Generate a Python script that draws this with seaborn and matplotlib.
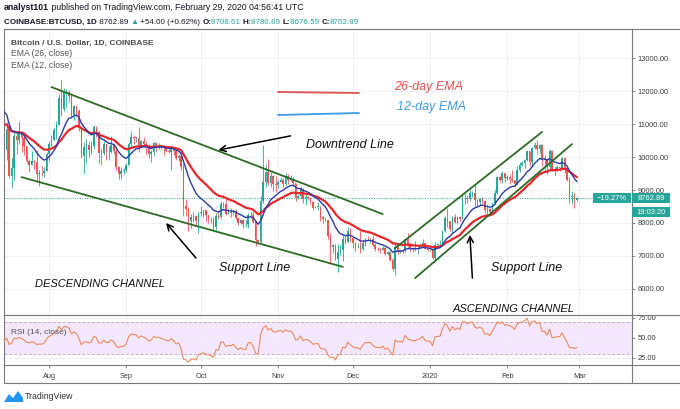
import numpy as np
import pandas as pd
import matplotlib
matplotlib.use("Agg")
import matplotlib.pyplot as plt
import matplotlib.dates as mdates
from matplotlib.patches import Rectangle, Polygon
import seaborn as sns

# June 2019 closes, only used to warm up the EMA / RSI
warmup_close = [8560, 8740, 8100, 7650, 7790, 7810, 8000, 7930, 7630, 8010,
                7920, 8170, 8230, 8690, 8850, 8980, 9330, 9080, 9280, 9530,
                10170, 10700, 10850, 11010, 11760, 12930, 11160, 12380, 11900, 10820]

# daily BTCUSD candles, 2019-07-01 .. 2020-02-29 (open = previous close)
start_date = "2019-07-01"
first_open = 10820
close = [
    # Jul
    10590, 10820, 11980, 11150, 10980, 11250, 11480, 12300, 12570, 12100, 11350, 11810, 11380, 10200, 10850, 9420,
    9680, 10640, 10530, 10760, 10590, 10330, 9870, 9770, 9880, 9850, 9480, 9530, 9510, 9590, 10090,
    # Aug
    10400, 10530, 10820, 10980, 11800, 11460, 11970, 11980, 11850, 11280, 11540, 11390, 10880, 10030, 10300, 10350,
    10220, 10320, 10920, 10760, 10130, 10120, 10400, 10140, 10140, 10370, 10190, 9710, 9490, 9580, 9600,
    # Sep
    9760, 10380, 10620, 10580, 10580, 10320, 10500, 10400, 10320, 10100, 10160, 10410, 10360, 10360, 10310,
    10260, 10190, 10160, 10270, 10170, 9980, 10030, 9700, 8530, 8430, 8060, 8190, 8210, 8050, 8300,
    # Oct
    8340, 8390, 8230, 8150, 8140, 7870, 8210, 8180, 8590, 8590, 8270, 8320, 8300, 8370, 8160, 8000,
    8080, 7960, 7960, 8240, 8230, 8030, 7470, 7430, 8660, 9240, 9550, 9220, 9430, 9170, 9150,
    # Nov
    9250, 9300, 9190, 9410, 9310, 9340, 9200, 8770, 8810, 9040, 8720, 8800, 8760, 8630, 8460,
    8490, 8500, 8170, 8120, 8080, 7610, 7280, 7320, 6910, 7130, 7170, 7520, 7430, 7750, 7550,
    # Dec
    7400, 7300, 7300, 7200, 7390, 7530, 7500, 7520, 7340, 7220, 7200, 7190, 7250, 7060, 7110, 6880,
    6610, 7280, 7150, 7190, 7140, 7510, 7320, 7250, 7200, 7200, 7250, 7300, 7390, 7220, 7170,
    # Jan
    7180, 6950, 7340, 7350, 7360, 7760, 8160, 8050, 7820, 8190, 8020, 8180, 8110, 8810, 8820, 8720,
    8900, 8920, 8700, 8630, 8730, 8660, 8390, 8430, 8340, 8600, 8900, 9390, 9290, 9510, 9350,
    # Feb
    9380, 9340, 9290, 9180, 9620, 9760, 9810, 9910, 10170, 9850, 10280, 10360, 10240, 10370, 9900,
    9930, 9700, 10180, 9600, 9610, 9690, 9670, 9960, 9660, 9310, 8790, 8790, 8708.61, 8762.89,
]
high = [
    11200, 10900, 11990, 12000, 11400, 11700, 11580, 12380, 12800, 13200, 12100, 11900, 11820, 11450, 11050, 11000,
    9960, 10780, 10750, 11100, 10800, 10650, 10340, 9930, 10190, 9900, 10200, 9600, 9730, 9700, 10150,
    10470, 10680, 10920, 11080, 11900, 12320, 12100, 12050, 12030, 11950, 11590, 11550, 11450, 10890, 10460, 10550,
    10480, 10480, 10980, 10950, 10800, 10250, 10470, 10400, 10320, 10630, 10420, 10300, 9730, 9690, 9680,
    9810, 10460, 10800, 10670, 10610, 10910, 10530, 10620, 10480, 10400, 10200, 10460, 10450, 10420, 10380,
    10360, 10270, 10240, 10290, 10290, 10170, 10100, 10040, 9800, 8730, 8470, 8270, 8320, 8230, 8320,
    8520, 8400, 8400, 8240, 8180, 8160, 8310, 8340, 8670, 8650, 8800, 8440, 8440, 8400, 8420, 8170,
    8120, 8130, 8090, 8290, 8330, 8340, 8050, 7500, 8810, 10370, 9790, 9950, 9550, 9440, 9430,
    9290, 9380, 9370, 9530, 9470, 9450, 9380, 9220, 8860, 9130, 9070, 8880, 8830, 8790, 8680,
    8520, 8630, 8510, 8200, 8180, 8130, 7690, 7350, 7350, 7370, 7330, 7650, 7630, 7870, 7840,
    7550, 7420, 7400, 7750, 7480, 7560, 7620, 7560, 7620, 7400, 7270, 7230, 7310, 7280, 7150, 7140,
    6930, 7430, 7370, 7220, 7190, 7520, 7690, 7420, 7280, 7440, 7280, 7360, 7520, 7420, 7310,
    7250, 7210, 7410, 7390, 7490, 7800, 8210, 8460, 8050, 8200, 8280, 8200, 8190, 8890, 8900, 8830,
    9000, 8980, 9190, 8740, 8760, 8790, 8670, 8510, 8440, 8620, 8990, 9410, 9420, 9580, 9520,
    9460, 9470, 9620, 9310, 9740, 9850, 9870, 9950, 10180, 10180, 10300, 10450, 10520, 10390, 10400,
    10050, 9980, 10250, 10200, 9690, 9770, 9700, 9990, 10000, 9680, 9400, 8970, 8900, 8780.89,
]
low = [
    10000, 9700, 10830, 11070, 10800, 10980, 11100, 11420, 12140, 11600, 11000, 11120, 10850, 10100, 9900, 9350,
    9070, 9300, 10100, 10400, 10150, 10070, 9830, 9550, 9750, 9650, 9230, 9120, 9430, 9380, 9580,
    9890, 10340, 10500, 10560, 10970, 11240, 11400, 11500, 11680, 11200, 11130, 11240, 10790, 9980, 9520, 9830,
    9990, 10080, 10250, 10600, 9820, 9750, 10060, 9910, 9920, 10130, 10080, 9600, 9330, 9330, 9480,
    9560, 9760, 10300, 10400, 10460, 10160, 10300, 10300, 10100, 9970, 9850, 10030, 10160, 10240, 10240,
    10070, 10140, 10110, 9620, 10060, 9920, 9880, 9620, 8220, 8200, 7760, 7860, 8030, 7900, 7700,
    8200, 8180, 8070, 8000, 8000, 7790, 7780, 8110, 8110, 8460, 8240, 8270, 8190, 8240, 8100, 7930,
    7980, 7860, 7880, 7860, 8140, 8010, 7300, 7360, 7400, 8620, 9080, 9140, 9100, 8980, 8930,
    9050, 9240, 9090, 9160, 9180, 9280, 9120, 8660, 8740, 8760, 8620, 8560, 8700, 8570, 8380,
    8440, 8400, 8060, 8010, 8050, 7510, 6790, 7100, 6870, 6520, 7020, 6860, 7370, 7420, 7460,
    7230, 7160, 7230, 7100, 7170, 7300, 7480, 7400, 7300, 7160, 7150, 7080, 7180, 7030, 7030, 6840,
    6560, 6430, 7050, 7080, 7100, 7130, 7260, 7160, 7120, 7150, 7070, 7240, 7280, 7200, 7150,
    7150, 6910, 6860, 7280, 7330, 7350, 7730, 7880, 7760, 7680, 8000, 7960, 8060, 8110, 8580, 8620,
    8680, 8800, 8470, 8530, 8560, 8600, 8300, 8240, 8250, 8300, 8580, 8880, 9230, 9210, 9250,
    9300, 9170, 9230, 9100, 9160, 9540, 9730, 9670, 9880, 9730, 9690, 10240, 10090, 10120, 9720,
    9590, 9470, 9590, 9570, 9440, 9580, 9590, 9660, 9520, 9260, 8600, 8570, 8450, 8676.59,
]

month_ticks = ["2019-08-01", "2019-09-01", "2019-10-01", "2019-11-01", "2019-12-01",
               "2020-01-01", "2020-02-01", "2020-03-01"]
month_labels = ["Aug", "Sep", "Oct", "Nov", "Dec", "2020", "Feb", "Mar"]
price_ticks = [6000, 7000, 8000, 9000, 10000, 11000, 12000, 13000]
rsi_ticks = [25, 50, 75]
last_price = 8762.89

# hand-drawn analysis lines: (date, price) start/end
desc_upper = [("2019-08-02", 12120), ("2019-12-13", 8270)]
desc_lower = [("2019-07-21", 9390), ("2019-11-27", 6670)]
asc_upper = [("2019-12-18", 7240), ("2020-02-15", 10760)]
asc_lower = [("2019-12-26", 6330), ("2020-02-27", 10390)]
# arrows: (tail, head)
arrow_downtrend = [("2019-11-06", 10640), ("2019-10-08", 10210)]
arrow_support_l = [("2019-09-29", 6940), ("2019-09-17", 8000)]
arrow_support_r = [("2020-01-18", 6330), ("2020-01-17", 7640)]

W, H = 680, 409
UP, DOWN = "#26a69a", "#ef5350"
DARK = "#131722"
FRAME = "#7a7a7a"
GRID = "#eef1f5"

sns.set_theme(style="white")
plt.rcParams["font.family"] = ["Liberation Sans", "DejaVu Sans"]

assert len(close) == len(high) == len(low)
dates = pd.date_range(start_date, periods=len(close), freq="D")
x = mdates.date2num(dates)
close_a = np.array(close, dtype=float)
open_a = np.r_[first_open, close_a[:-1]]
high_a = np.maximum(np.array(high, dtype=float), np.maximum(open_a, close_a))
low_a = np.minimum(np.array(low, dtype=float), np.minimum(open_a, close_a))

# indicators
full = pd.Series(warmup_close + close, dtype=float)
n0 = len(warmup_close)
ema26 = full.ewm(span=26, adjust=False).mean().to_numpy()[n0:]
ema12 = full.ewm(span=12, adjust=False).mean().to_numpy()[n0:]
delta = full.diff()
gain = delta.clip(lower=0).ewm(alpha=1 / 14, adjust=False).mean()
loss = (-delta.clip(upper=0)).ewm(alpha=1 / 14, adjust=False).mean()
rsi = (100 - 100 / (1 + gain / loss)).to_numpy()[n0:]


def fx(px):
    return px / W


def fy(py):
    return 1 - py / H


def dn(d):
    return mdates.date2num(pd.Timestamp(d))


fig = plt.figure(figsize=(W / 100, H / 100), dpi=100)
fig.patch.set_facecolor("white")
ax = fig.add_axes([fx(4), fy(315), fx(632) - fx(4), fy(29) - fy(315)])
ax_r = fig.add_axes([fx(4), fy(365), fx(632) - fx(4), fy(315) - fy(365)])

aug1 = dn("2019-08-01")
xlim = (aug1 - 18.07, aug1 + 234.1)

# --- price panel ---
colors = np.where(close_a >= open_a, UP, DOWN)
body = np.maximum(np.abs(close_a - open_a), 18)
ax.vlines(x, low_a, high_a, colors=colors, linewidth=0.6, zorder=2)
ax.bar(x, body, bottom=np.minimum(open_a, close_a), width=0.62, color=colors, linewidth=0, zorder=2)
sns.lineplot(x=x, y=ema26, ax=ax, color="#e8262b", linewidth=1.6, zorder=3)
sns.lineplot(x=x, y=ema12, ax=ax, color="#2b3aa6", linewidth=1.0, zorder=3)
ax.axhline(last_price, color=UP, linestyle=(0, (1, 1.5)), linewidth=0.7, zorder=1)

for seg in (desc_upper, desc_lower, asc_upper, asc_lower):
    ax.plot([dn(seg[0][0]), dn(seg[1][0])], [seg[0][1], seg[1][1]],
            color="#2d6b25", linewidth=1.3, zorder=4)
for (tail, head) in (arrow_downtrend, arrow_support_l, arrow_support_r):
    ax.annotate("", xy=(dn(head[0]), head[1]), xytext=(dn(tail[0]), tail[1]),
                arrowprops=dict(arrowstyle="->", color="black", lw=1.1, mutation_scale=11,
                                shrinkA=0, shrinkB=0), zorder=5)

ax.set_xlim(*xlim)
ax.set_ylim(5212, 13879)
ax.set_xticks([dn(d) for d in month_ticks])
ax.tick_params(axis="x", bottom=False, labelbottom=False)
ax.yaxis.tick_right()
ax.set_yticks(price_ticks)
ax.set_yticklabels([f"{v:.2f}" for v in price_ticks])
ax.tick_params(axis="y", right=True, direction="out", length=2.5, width=0.6, color=FRAME,
               labelsize=5.4, labelcolor="#3c3c3c", pad=1.5)
ax.grid(True, color=GRID, linewidth=0.7)
ax.set_xlabel("")
ax.set_ylabel("")
for s in ax.spines.values():
    s.set_color(FRAME)
    s.set_linewidth(0.8)

# --- RSI panel ---
ax_r.axhspan(30, 70, color="#f3e6fd", zorder=0, linewidth=0)
for lvl in (70, 30):
    ax_r.axhline(lvl, color="#c6a8c9", linestyle=(0, (3, 2)), linewidth=0.7, zorder=1)
sns.lineplot(x=x, y=rsi, ax=ax_r, color="#ef8a5b", linewidth=0.8, zorder=3)
ax_r.set_xlim(*xlim)
ax_r.set_ylim(16.25, 78.75)
ax_r.set_xticks([dn(d) for d in month_ticks])
ax_r.set_xticklabels(month_labels)
ax_r.yaxis.tick_right()
ax_r.set_yticks(rsi_ticks)
ax_r.set_yticklabels([f"{v:.2f}" for v in rsi_ticks])
ax_r.tick_params(axis="y", right=True, direction="out", length=2.5, width=0.6, color=FRAME,
                 labelsize=5.4, labelcolor="#3c3c3c", pad=1.5)
ax_r.tick_params(axis="x", bottom=True, direction="out", length=2.5, width=0.6, color=FRAME,
                 labelsize=5.3, labelcolor="#3c3c3c", pad=3.5)
ax_r.grid(True, color=GRID, linewidth=0.7)
ax_r.set_xlabel("")
ax_r.set_ylabel("")
for s in ax_r.spines.values():
    s.set_color(FRAME)
    s.set_linewidth(0.8)

# --- overlay in pixel coordinates ---
ov = fig.add_axes([0, 0, 1, 1], facecolor="none")
ov.set_axis_off()
ov.set_xlim(0, W)
ov.set_ylim(H, 0)

for (xa, ya, xb, yb) in [(4, 29, 680, 29), (632, 315, 680, 315), (632, 365, 680, 365),
                         (4, 383, 680, 383), (4, 365, 4, 383), (632, 365, 632, 383)]:
    ov.plot([xa, xb], [ya, yb], color=FRAME, linewidth=0.8)


def chain(parts, x0, ybot, size):
    prev = None
    for txt, col, bold in parts:
        kw = dict(fontsize=size, color=col, fontweight="bold" if bold else "normal", va="bottom", ha="left")
        if prev is None:
            prev = ov.text(x0, ybot, txt, **kw)
        else:
            prev = ov.annotate(txt, xy=(1, 0), xycoords=prev, **kw)


chain([("analyst101", DARK, True),
       (" published on TradingView.com, February 29, 2020 04:56:41 UTC", DARK, False)], 4, 12.5, 6.3)
chain([("COINBASE:BTCUSD, 1D", DARK, True), (" 8762.89 ", DARK, False), ("\u25b2", UP, False),
       (" +54.00 (+0.62%) ", DARK, False), ("O:", DARK, True), ("8708.61 ", UP, False),
       ("H:", DARK, True), ("8780.89 ", UP, False), ("L:", DARK, True), ("8676.59 ", UP, False),
       ("C:", DARK, True), ("8762.89", UP, False)], 4, 26, 5.8)

ov.text(11, 43, "Bitcoin / U.S. Dollar, 1D, COINBASE", fontsize=6.0, color="#4a4a4a",
        fontweight="bold", va="center")
ov.text(11, 54, "EMA (26, close)", fontsize=6.2, color="#555555", va="center")
ov.text(11, 65, "EMA (12, close)", fontsize=6.2, color="#555555", va="center")
ov.text(11, 333, "RSI (14, close)", fontsize=6.0, color="#555555", va="center")

# legend drawn by the analyst
ov.plot([278, 359], [92, 93], color="#e0524f", linewidth=1.3)
ov.plot([278, 359], [115, 113], color="#3d9be9", linewidth=1.3)
ov.text(394, 87, "26-day EMA", fontsize=9, style="italic", color="#e8504f", va="center")
ov.text(397, 107, "12-day EMA", fontsize=9, style="italic", color="#3b9ae1", va="center")

for (tx, ty, s, fs) in [(306, 145, "Downtrend Line", 9), (219, 268, "Support Line", 9),
                        (491, 268, "Support Line", 9), (35, 284, "DESCENDING CHANNEL", 8),
                        (453, 309, "ASCENDING CHANNEL", 8)]:
    ov.text(tx, ty, s, fontsize=fs, style="italic", color="#111111", va="center")

# price scale labels
for (bx, by, bw, s) in [(632, 193, 38, "8762.89"), (632, 207, 38, "19:03:20"), (593, 193, 38, "\u221219.27%")]:
    ov.add_patch(Rectangle((bx, by), bw, 10, facecolor=UP, edgecolor="none", zorder=6))
    ov.text(bx + bw / 2, by + 5, s, fontsize=5.4, color="white", ha="center", va="center", zorder=7)

# TradingView logo
ov.add_patch(Polygon([(4, 402), (9, 394), (13, 398), (18, 391), (23, 398), (23, 402)],
                     closed=True, facecolor="#2196f3", edgecolor="none"))
ov.text(25, 396.5, "TradingView", fontsize=6.3, color="#333333", va="center")

fig.savefig("out.png", dpi=100)
